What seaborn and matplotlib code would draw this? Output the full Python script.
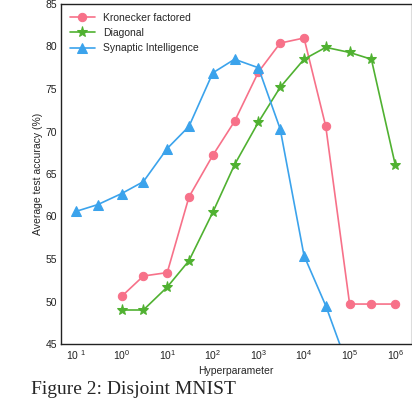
import numpy as np
import pandas as pd
import seaborn as sns
import matplotlib.pyplot as plt

# hyperparameter values
x_si = [0.1, 0.3, 1, 3, 10, 30, 100, 300, 1000, 3000, 1e4, 3e4, 1e5]
x_kf = [1, 3, 10, 30, 100, 300, 1000, 3000, 1e4, 3e4, 1e5, 3e5, 1e6]
x_diag = [1, 3, 10, 30, 100, 300, 1000, 3000, 1e4, 3e4, 1e5, 3e5, 1e6]

# average test accuracy (%)
acc_si = [60.6, 61.4, 62.7, 64.1, 68.0, 70.6, 76.9, 78.5, 77.5, 70.3, 55.4, 49.5, 41.8]
acc_kf = [50.6, 53.0, 53.4, 62.3, 67.2, 71.2, 77.0, 80.4, 81.0, 70.6, 49.7, 49.7, 49.7]
acc_diag = [49.0, 49.0, 51.7, 54.8, 60.5, 66.1, 71.1, 75.2, 78.5, 79.9, 79.3, 78.5, 66.1]

labels = ["Kronecker factored", "Diagonal", "Synaptic Intelligence"]
xticks = [0.1, 1, 10, 100, 1e3, 1e4, 1e5, 1e6]
xticklabels = [r"$\mathregular{10^{\ 1}}$"] + [r"$\mathregular{10^{%d}}$" % k for k in range(0, 7)]
yticks = [45, 50, 55, 60, 65, 70, 75, 80, 85]

sns.set_style("white")
plt.rcParams["font.family"] = ["Liberation Sans", "DejaVu Sans"]

colors = sns.husl_palette(3)

fig = plt.figure(figsize=(4.12, 4.0), dpi=100)
ax = fig.add_axes([0.148, 0.14, 0.85, 0.85])

series = [
    (x_kf, acc_kf, labels[0], "o", 6, colors[0]),
    (x_diag, acc_diag, labels[1], "*", 8, colors[1]),
    (x_si, acc_si, labels[2], "^", 6.5, colors[2]),
]
for xs, ys, name, mk, ms, c in series:
    df = pd.DataFrame({"x": xs, "y": ys})
    sns.lineplot(data=df, x="x", y="y", ax=ax, color=c, marker=mk,
                 markersize=ms, markeredgecolor=c, linewidth=1.2, label=name)

ax.set_xscale("log")
ax.set_xlim(10 ** -1.33, 10 ** 6.35)
ax.set_ylim(45, 85)
ax.set_xticks(xticks)
ax.set_xticklabels(xticklabels)
ax.minorticks_off()
ax.set_yticks(yticks)
ax.tick_params(axis="both", labelsize=7.5, length=0, pad=3, colors="#222222")
ax.set_xlabel("Hyperparameter", fontsize=7.5, labelpad=3)
ax.set_ylabel("Average test accuracy (%)", fontsize=7.5, labelpad=1.5)
for side in ["left", "bottom", "top"]:
    ax.spines[side].set_color("#222222")
    ax.spines[side].set_linewidth(1.0)
ax.spines["right"].set_color("#dddddd")

ax.legend(loc="upper left", frameon=False, fontsize=7.5, handlelength=2.4,
          borderaxespad=0.45, labelspacing=0.5)

fig.text(0.075, 0.004, "Figure 2: Disjoint MNIST", fontsize=14,
         family=["Liberation Serif", "DejaVu Serif"], va="bottom", ha="left")

fig.savefig("out.png", dpi=100)
